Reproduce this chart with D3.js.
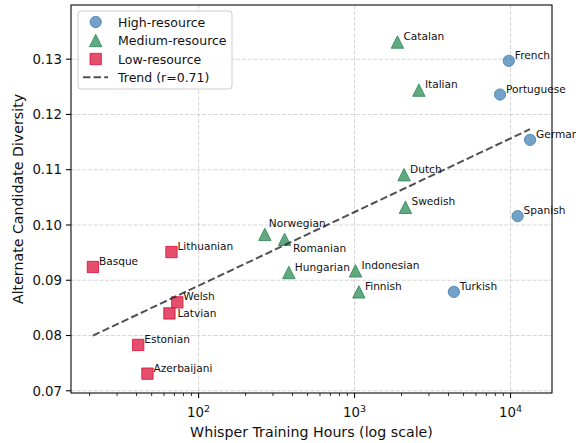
<!DOCTYPE html>
<html>
<head>
<meta charset="utf-8">
<script src="https://cdn.jsdelivr.net/npm/d3@7"></script>
<style>
  html, body { margin: 0; padding: 0; background: #fff; }
  svg { display: block; font-family: "DejaVu Sans", sans-serif; }
</style>
</head>
<body>
<svg id="chart" width="576" height="443"></svg>
<script>
// ---- data ----
const languages = ["French", "Portuguese", "German", "Spanish", "Turkish",
  "Catalan", "Italian", "Dutch", "Swedish", "Norwegian", "Romanian", "Hungarian", "Indonesian", "Finnish",
  "Basque", "Lithuanian", "Welsh", "Latvian", "Estonian", "Azerbaijani"];
const hours = [9752, 8573, 13344, 11100, 4333,
  1883, 2585, 2077, 2119, 266, 356, 379, 1014, 1066,
  21, 67, 73, 65, 41, 47];
const diversity = [0.1297, 0.1236, 0.1154, 0.1016, 0.0879,
  0.1331, 0.1244, 0.1091, 0.1032, 0.0983, 0.0974, 0.0914, 0.0917, 0.0879,
  0.0924, 0.0951, 0.0860, 0.0840, 0.0783, 0.0731];
const groups = ["High", "High", "High", "High", "High",
  "Medium", "Medium", "Medium", "Medium", "Medium", "Medium", "Medium", "Medium", "Medium",
  "Low", "Low", "Low", "Low", "Low", "Low"];
const groupNames = ["High", "Medium", "Low"];
const legendLabels = ["High-resource", "Medium-resource", "Low-resource"];
const trendLabel = "Trend (r=0.71)";
const yTicks = [0.07, 0.08, 0.09, 0.10, 0.11, 0.12, 0.13];
const xMajorTicks = [100, 1000, 10000];
const xLabel = "Whisper Training Hours (log scale)";
const yLabel = "Alternate Candidate Diversity";

// ---- layout / style ----
const M = { left: 71, right: 552, top: 5, bottom: 393 };
const colors = { High: "#4682b4", Medium: "#2e8b57", Low: "#dc143c" };
const symbols = { High: d3.symbolCircle, Medium: d3.symbolTriangle, Low: d3.symbolSquare };
const symSize = { High: 100, Medium: 70, Low: 128 };
// label offsets in px (dx, baseline dy) – default and per-label adjustments
const labelOffsetDefault = [6, -2];
const labelOffsets = { Norwegian: [4, -7], Romanian: [8.5, 12.5], Latvian: [8, 4] };

const svg = d3.select("#chart");
const x = d3.scaleLog().domain([15.2, 18450]).range([M.left, M.right]);
const y = d3.scaleLinear().domain([0.0696, 0.1398]).range([M.bottom, M.top]);

// grid
const grid = svg.append("g").attr("stroke", "#b0b0b0").attr("stroke-opacity", 0.5)
  .attr("stroke-width", 1.07).attr("stroke-dasharray", "4,1.7");
grid.selectAll("line.gx").data(xMajorTicks).join("line")
  .attr("x1", d => x(d)).attr("x2", d => x(d)).attr("y1", M.top).attr("y2", M.bottom);
grid.selectAll("line.gy").data(yTicks).join("line")
  .attr("y1", d => y(d)).attr("y2", d => y(d)).attr("x1", M.left).attr("x2", M.right);

// points
const pts = languages.map((l, i) => ({ name: l, h: hours[i], v: diversity[i], g: groups[i] }));
function symbolPath(g) {
  if (g === "Medium") {
    const s = 6.2;
    return `M0,${-s}L${s},${s}L${-s},${s}Z`;
  }
  return d3.symbol().type(symbols[g]).size(symSize[g])();
}
svg.append("g").selectAll("path").data(pts).join("path")
  .attr("d", d => symbolPath(d.g))
  .attr("transform", d => `translate(${x(d.h)},${y(d.v)})`)
  .attr("fill", d => colors[d.g]).attr("fill-opacity", 0.75)
  .attr("stroke", d => colors[d.g]).attr("stroke-opacity", 0.85).attr("stroke-width", 1);

// trend line (least squares on log10 hours)
const lx = hours.map(h => Math.log10(h));
const mx = d3.mean(lx), my = d3.mean(diversity);
let sxy = 0, sxx = 0;
lx.forEach((v, i) => { sxy += (v - mx) * (diversity[i] - my); sxx += (v - mx) ** 2; });
const slope = sxy / sxx, icpt = my - slope * mx;
const hmin = d3.min(hours), hmax = d3.max(hours);
const trendPts = d3.range(0, 51).map(k => Math.pow(10, Math.log10(hmin) + k / 50 * (Math.log10(hmax) - Math.log10(hmin))));
svg.append("path")
  .attr("d", d3.line().x(h => x(h)).y(h => y(icpt + slope * Math.log10(h)))(trendPts))
  .attr("fill", "none").attr("stroke", "#333").attr("stroke-opacity", 0.85)
  .attr("stroke-width", 2).attr("stroke-dasharray", "7.4,3.2");

// annotations
svg.append("g").selectAll("text").data(pts).join("text")
  .attr("x", d => x(d.h) + (labelOffsets[d.name] || labelOffsetDefault)[0])
  .attr("y", d => y(d.v) + (labelOffsets[d.name] || labelOffsetDefault)[1])
  .attr("font-size", 10.6).attr("fill", "#111").text(d => d.name);

// spines
svg.append("rect").attr("x", M.left).attr("y", M.top)
  .attr("width", M.right - M.left).attr("height", M.bottom - M.top)
  .attr("fill", "none").attr("stroke", "#000").attr("stroke-width", 1.07);

// y axis ticks
const yAx = svg.append("g");
yAx.selectAll("line").data(yTicks).join("line")
  .attr("x1", M.left - 5).attr("x2", M.left).attr("y1", d => y(d)).attr("y2", d => y(d))
  .attr("stroke", "#000").attr("stroke-width", 1.07);
yAx.selectAll("text").data(yTicks).join("text")
  .attr("x", M.left - 9).attr("y", d => y(d)).attr("dy", "0.36em")
  .attr("text-anchor", "end").attr("font-size", 13.3).attr("fill", "#111")
  .text(d => d3.format(".2f")(d));

// x axis ticks (major + minor)
const [d0, d1] = x.domain();
const minor = [];
for (let e = 1; e <= 4; e++) for (let m = 2; m <= 9; m++) {
  const v = m * Math.pow(10, e); if (v >= d0 && v <= d1) minor.push(v);
}
const xAx = svg.append("g");
xAx.selectAll("line.minor").data(minor).join("line")
  .attr("x1", d => x(d)).attr("x2", d => x(d)).attr("y1", M.bottom).attr("y2", M.bottom + 3)
  .attr("stroke", "#000").attr("stroke-width", 0.8);
xAx.selectAll("line.major").data(xMajorTicks).join("line")
  .attr("x1", d => x(d)).attr("x2", d => x(d)).attr("y1", M.bottom).attr("y2", M.bottom + 5)
  .attr("stroke", "#000").attr("stroke-width", 1.07);
const xt = xAx.selectAll("text").data(xMajorTicks).join("text")
  .attr("x", d => x(d)).attr("y", 417).attr("text-anchor", "middle")
  .attr("font-size", 13.3).attr("fill", "#111");
xt.append("tspan").text("10");
xt.append("tspan").attr("dy", -5).attr("font-size", 9.5).text(d => Math.round(Math.log10(d)));

// axis labels
svg.append("text").attr("x", (M.left + M.right) / 2).attr("y", 437)
  .attr("text-anchor", "middle").attr("font-size", 14.2).attr("fill", "#111").text(xLabel);
svg.append("text").attr("transform", `translate(23,${(M.top + M.bottom) / 2}) rotate(-90)`)
  .attr("text-anchor", "middle").attr("font-size", 14.2).attr("fill", "#111").text(yLabel);

// legend
const lg = svg.append("g");
lg.append("rect").attr("x", 78).attr("y", 11).attr("width", 154).attr("height", 78)
  .attr("rx", 3).attr("fill", "#fff").attr("fill-opacity", 0.8)
  .attr("stroke", "#ccc").attr("stroke-width", 1);
const rowY = [22, 40.5, 59, 77.3];
groupNames.forEach((g, i) => {
  lg.append("path").attr("d", symbolPath(g))
    .attr("transform", `translate(95.7,${rowY[i]})`)
    .attr("fill", colors[g]).attr("fill-opacity", 0.75)
    .attr("stroke", colors[g]).attr("stroke-opacity", 0.85);
  lg.append("text").attr("x", 118).attr("y", rowY[i]).attr("dy", "0.36em")
    .attr("font-size", 12.5).attr("fill", "#111").text(legendLabels[i]);
});
lg.append("line").attr("x1", 83).attr("x2", 108).attr("y1", rowY[3]).attr("y2", rowY[3])
  .attr("stroke", "#333").attr("stroke-opacity", 0.85).attr("stroke-width", 2)
  .attr("stroke-dasharray", "7.4,3.2");
lg.append("text").attr("x", 118).attr("y", rowY[3]).attr("dy", "0.36em")
  .attr("font-size", 12.5).attr("fill", "#111").text(trendLabel);
</script>
</body>
</html>
